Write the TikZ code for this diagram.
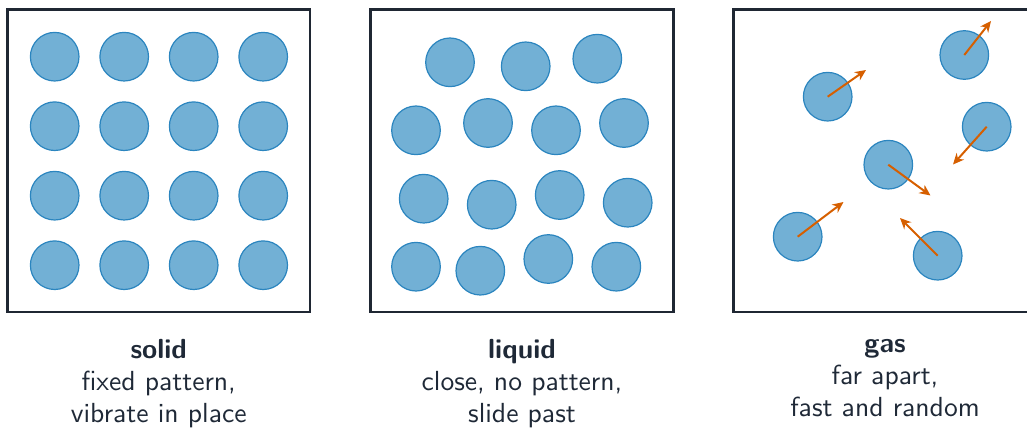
\documentclass[tikz,border=0pt]{standalone}
\usepackage{fontspec}
\newfontfamily\capfont{lmsans10-regular.otf}[BoldFont=lmsans10-bold.otf]
\usetikzlibrary{arrows.meta}
\definecolor{boxline}{HTML}{1F2733}
\definecolor{pfill}{HTML}{72B0D5}
\definecolor{pline}{HTML}{2B85BF}
\definecolor{arrcol}{HTML}{D65F00}
\definecolor{txt}{HTML}{1F2937}
\tikzset{
  frame/.style={draw=boxline,line width=2.6pt},
  particle/.style={circle,fill=pfill,draw=pline,line width=1.2pt,minimum size=48.6pt,inner sep=0pt},
  motion/.style={draw=arrcol,line width=2pt,-{Stealth[length=11pt,width=10pt,inset=3.5pt]}},
  caption/.style={anchor=north,align=center,inner sep=0pt,text=txt,font=\capfont\fontsize{27.6}{32}\selectfont}
}
\begin{document}
\begin{tikzpicture}[x=1pt,y=-1pt]
\useasboundingbox (0,0) rectangle (1027,428);
% boxes
\draw[frame] (7.5,9.5) rectangle (310,312);
\draw[frame] (370.5,9.5) rectangle (673.5,312);
\draw[frame] (733.5,9.5) rectangle (1036.5,312);
% solid
\foreach \i/\x in {1/54.7,2/124.2,3/193.7,4/263.2}{
  \foreach \j/\y in {1/56.7,2/126.2,3/195.7,4/265.2}{
    \node[particle] (s\i\j) at (\x,\y) {};
  }
}
% liquid
\node[particle] (l1) at (450,62.3) {};
\node[particle] (l2) at (525.7,66.3) {};
\node[particle] (l3) at (597.3,58.7) {};
\node[particle] (l4) at (416,130.3) {};
\node[particle] (l5) at (488,123) {};
\node[particle] (l6) at (556,130.3) {};
\node[particle] (l7) at (624,123) {};
\node[particle] (l8) at (423.7,198.7) {};
\node[particle] (l9) at (491.7,204.7) {};
\node[particle] (l10) at (559.7,195) {};
\node[particle] (l11) at (627.7,202.7) {};
\node[particle] (l12) at (416,266.7) {};
\node[particle] (l13) at (480.3,270.7) {};
\node[particle] (l14) at (548.3,259) {};
\node[particle] (l15) at (616.3,266.7) {};
% gas
\node[particle] (g1) at (827.7,96.7) {};
\node[particle] (g2) at (964.3,55) {};
\node[particle] (g3) at (986.7,126.7) {};
\node[particle] (g4) at (888.3,164.7) {};
\node[particle] (g5) at (797.7,236.7) {};
\node[particle] (g6) at (937.7,255.7) {};
\coordinate (t1) at (866,70);
\coordinate (t2) at (991,21);
\coordinate (t3) at (953,164.5);
\coordinate (t4) at (930.5,195.5);
\coordinate (t5) at (843.5,202);
\coordinate (t6) at (900,218);
\foreach \k in {1,...,6}{ \draw[motion] (g\k.center) -- (t\k); }
% captions
\node[caption] (c1) at (158.75,339.5) {\bfseries solid\\fixed pattern,\\vibrate in place};
\node[caption] (c2) at (522,339.5) {\bfseries liquid\\close, no pattern,\\slide past};
\node[caption] (c3) at (885,339.5) {\bfseries gas\\far apart,\\fast and random};
\end{tikzpicture}
\end{document}
